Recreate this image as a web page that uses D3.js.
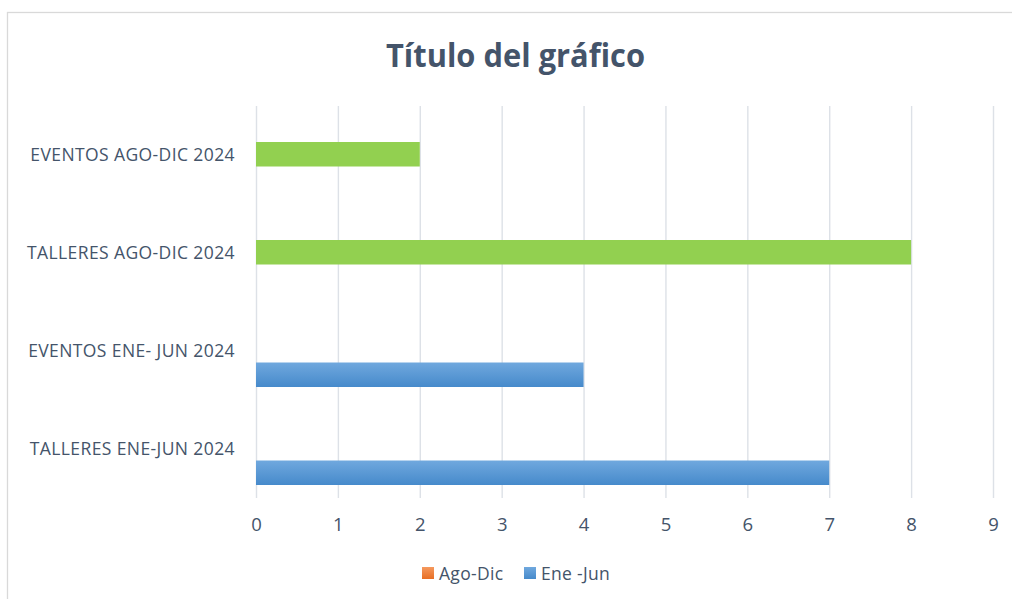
<!DOCTYPE html>
<html>
<head>
<meta charset="utf-8">
<script src="https://cdn.jsdelivr.net/npm/d3@7"></script>
<style>
  body { margin: 0; background: #fff; }
  svg { display: block; font-family: "Open Sans", sans-serif; }
  .gridline line { stroke: #dde1e7; stroke-width: 1.4; }
  .tickText text { fill: #44546a; }
</style>
</head>
<body>
<script>
// chart values
var categories = ["EVENTOS AGO-DIC 2024", "TALLERES AGO-DIC 2024", "EVENTOS ENE- JUN 2024", "TALLERES ENE-JUN 2024"];
var seriesNames = ["Ago-Dic", "Ene -Jun"];
var agoDic = [2, 8, null, null];
var eneJun = [null, null, 4, 7];
var xTicks = [0, 1, 2, 3, 4, 5, 6, 7, 8, 9];

window.onload = drawChart();

function drawChart(){
  var width = 1012,
      height = 599;

  var svg = d3.select("body")
    .append("svg")
    .attr("width", width)
    .attr("height", height);

  //gradients for blue bars and legend swatches
  var defs = svg.append("defs");
  function grad(id, c1, c2){
    var g = defs.append("linearGradient").attr("id", id)
      .attr("x1", 0).attr("y1", 0).attr("x2", 0).attr("y2", 1);
    g.append("stop").attr("offset", "0%").attr("stop-color", c1);
    g.append("stop").attr("offset", "100%").attr("stop-color", c2);
  }
  grad("blueGrad", "#70a8de", "#468acb");
  grad("orangeGrad", "#f5995e", "#e86f24");

  //chart frame
  svg.append("rect")
    .attr("x", 7.5).attr("y", 12.5)
    .attr("width", 1100).attr("height", 700)
    .attr("fill", "#fff")
    .attr("stroke", "#d9d9d9")
    .attr("stroke-width", 1.3);

  //title
  svg.append("text")
    .attr("x", 515.5).attr("y", 67)
    .attr("text-anchor", "middle")
    .attr("fill", "#44546a")
    .attr("textLength", 259)
    .attr("lengthAdjust", "spacingAndGlyphs")
    .style("font-size", "32px")
    .style("font-weight", 700)
    .text("Título del gráfico");

  var plot = {left: 256, right: 993, top: 106, bottom: 498};

  var x = d3.scaleLinear()
    .domain([0, 9])
    .range([plot.left, plot.right]);

  var y = d3.scaleBand()
    .domain(categories)
    .range([plot.top, plot.bottom]);

  //bar slots inside each category
  var inner = d3.scaleBand()
    .domain(seriesNames)
    .range([0, 49]);

  //gridlines + value axis labels
  var xAxis = svg.append("g")
    .attr("class", "gridline tickText")
    .attr("transform", "translate(0," + plot.bottom + ")")
    .call(d3.axisBottom(x).tickValues(xTicks).tickSize(-(plot.bottom - plot.top)).tickPadding(20));
  xAxis.select(".domain").remove();
  xAxis.selectAll("text")
    .style("font-size", "18.5px")
    .style("font-family", "Open Sans, sans-serif");

  //category labels
  var yAxis = svg.append("g")
    .attr("class", "tickText")
    .attr("transform", "translate(" + plot.left + ",0)")
    .call(d3.axisLeft(y).tickSize(0).tickPadding(21));
  yAxis.select(".domain").remove();
  yAxis.selectAll("text")
    .style("font-size", "17.5px")
    .style("letter-spacing", "0.4px")
    .style("font-family", "Open Sans, sans-serif");

  //bars
  var rows = [];
  categories.forEach(function(c, i){
    rows.push({cat: c, s: seriesNames[0], v: agoDic[i]});
    rows.push({cat: c, s: seriesNames[1], v: eneJun[i]});
  });

  svg.selectAll(".bar")
    .data(rows.filter(function(d){ return d.v != null; }))
    .enter()
    .append("rect")
    .attr("class", "bar")
    .attr("x", x(0))
    .attr("y", function(d){ return y(d.cat) + y.bandwidth() / 2 - 13 + inner(d.s); })
    .attr("width", function(d){ return x(d.v) - x(0); })
    .attr("height", inner.bandwidth())
    .attr("fill", function(d){ return d.s == "Ago-Dic" ? "#92d050" : "url(#blueGrad)"; });

  //legend
  var legend = svg.append("g").attr("transform", "translate(422,567)");
  var legX = [0, 102];
  var item = legend.selectAll(".leg")
    .data(seriesNames)
    .enter()
    .append("g")
    .attr("transform", function(d, i){ return "translate(" + legX[i] + ",0)"; });
  item.append("rect")
    .attr("width", 12).attr("height", 12)
    .attr("fill", function(d, i){ return i == 0 ? "url(#orangeGrad)" : "url(#blueGrad)"; });
  item.append("text")
    .attr("x", 17).attr("y", 12.5)
    .attr("fill", "#44546a")
    .style("font-size", "17.5px")
    .style("letter-spacing", "0.3px")
    .text(function(d){ return d; });
};
</script>
</body>
</html>
